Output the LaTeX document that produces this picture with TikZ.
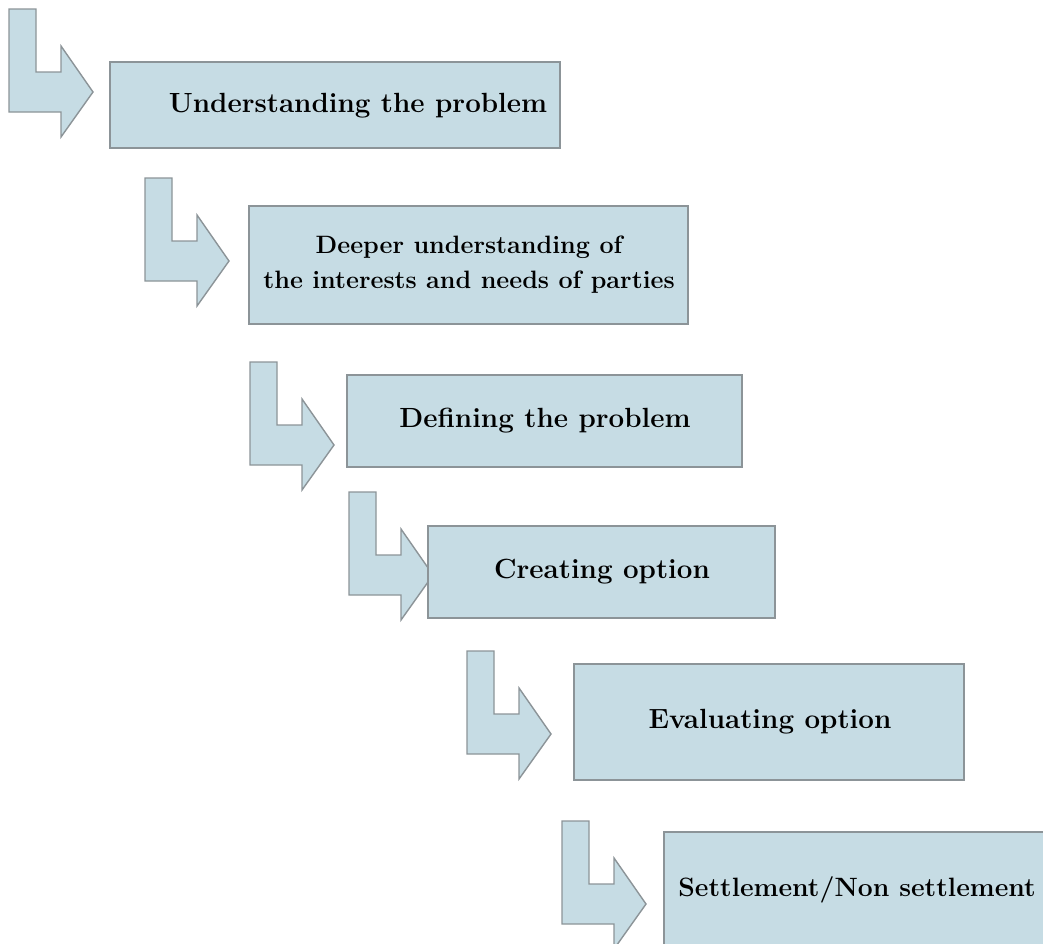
\documentclass[tikz,border=0pt]{standalone}
\usepackage{tikz}

\definecolor{stepfill}{RGB}{198,220,228}
\definecolor{stepline}{RGB}{140,148,152}

\tikzset{
  elbow/.pic={% bent arrow pointing into the next step
    \draw[stepline, fill=stepfill, line width=0.8pt, line join=miter]
      (0,0) -- (27,0) -- (27,63) -- (52,63) -- (52,37) -- (84,83)
      -- (52,128) -- (52,103) -- (0,103) -- cycle;
  }
}

\begin{document}
\begin{tikzpicture}[x=0.02cm, y=-0.02cm,
    box/.style={draw=stepline, fill=stepfill, line width=0.8pt, inner sep=0pt},
    lbl/.style={font=\fontsize{#1}{20}\selectfont\bfseries, align=center, inner sep=0pt},
    lbl/.default=15.8]
  \useasboundingbox (0,0) rectangle (1043,943);

  % the arrows down the left side
  \foreach \x/\y in {9/9, 145/178, 250/362, 349/492, 467/651, 562/821}
    \pic at (\x,\y) {elbow};

  % step boxes
  \node[box, minimum width=9cm,    minimum height=1.72cm] (understand) at (335,105) {};
  \node[box, minimum width=8.78cm, minimum height=2.36cm] (interests)  at (468.5,265) {};
  \node[box, minimum width=7.9cm,  minimum height=1.84cm] (define)     at (544.5,421) {};
  \node[box, minimum width=6.94cm, minimum height=1.84cm] (create)     at (601.5,572) {};
  \node[box, minimum width=7.8cm,  minimum height=2.32cm] (evaluate)   at (769,722) {};
  \node[box, minimum width=8.2cm,  minimum height=2.8cm]  (settle)     at (869,902) {};

  % texts
  \node[lbl] (understandtxt) at (358,106) {Understanding the problem};
  \node[lbl=14.3] (intereststxt) at (469,265) {Deeper understanding of\\the interests and needs of parties};
  \node[lbl] (definetxt)     at (545,421) {Defining the problem};
  \node[lbl] (createtxt)     at (602,572) {Creating option};
  \node[lbl] (evaluatetxt)   at (770,722) {Evaluating option};
  \node[lbl=15.1, anchor=west] (settletxt) at (678,890) {Settlement/Non settlement};
\end{tikzpicture}
\end{document}
